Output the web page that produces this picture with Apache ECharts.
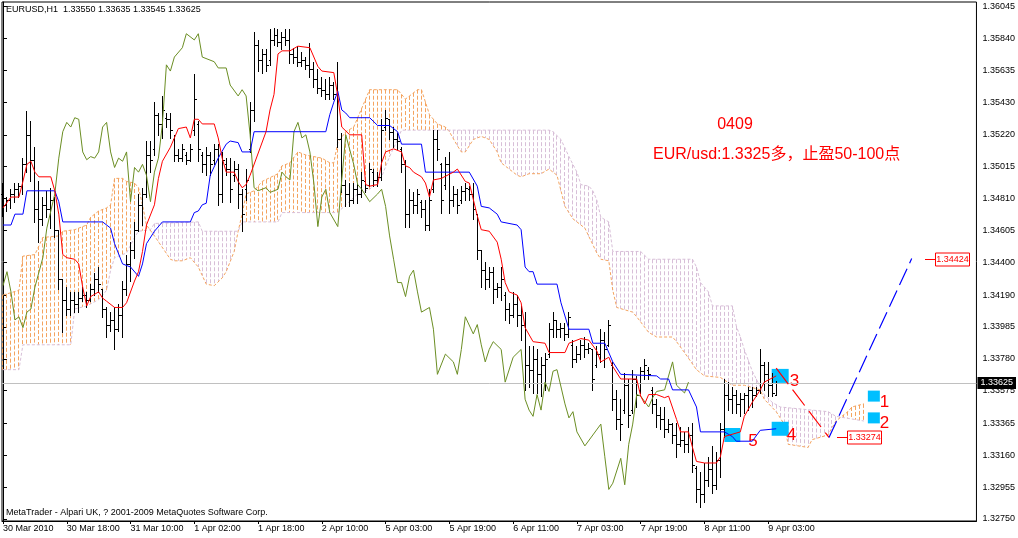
<!DOCTYPE html>
<html><head><meta charset="utf-8">
<script src="https://cdn.jsdelivr.net/npm/echarts@6/dist/echarts.min.js"></script>
<style>html,body{margin:0;padding:0;background:#fff}#c{width:1018px;height:538px}</style>
</head><body><div id="c"></div>
<script>
// ---------- DATA ----------
const symbolName = 'EURUSD,H1';
const xTickIdx = [0,16,32,48,64,80,96,112,128,144,160,176,192];
const xTickLabels = ['30 Mar 2010','30 Mar 18:00','31 Mar 10:00','1 Apr 02:00','1 Apr 18:00','2 Apr 10:00','5 Apr 03:00','5 Apr 19:00','6 Apr 11:00','7 Apr 03:00','7 Apr 19:00','8 Apr 11:00','9 Apr 03:00'];
const yTickValues = [1.36045,1.35840,1.35635,1.35430,1.35220,1.35015,1.34810,1.34605,1.34400,1.34190,1.33985,1.33780,1.33575,1.33365,1.33160,1.32955,1.32750];

const barOpen = [1.3484,1.3477,1.3480,1.3484,1.3487,1.3489,1.3503,1.3522,1.3506,1.3474,
1.3468,1.3477,1.3474,1.3480,1.3461,1.3429,1.3416,1.3410,1.3416,1.3413,
1.3417,1.3419,1.3416,1.3423,1.3429,1.3423,1.3410,1.3400,1.3403,1.3397,
1.3406,1.3423,1.3439,1.3448,1.3461,1.3477,1.3484,1.3509,1.3513,1.3535,
1.3529,1.3533,1.3532,1.3519,1.3509,1.3507,1.3509,1.3506,1.3525,1.3529,
1.3509,1.3503,1.3509,1.3506,1.3513,1.3484,1.3503,1.3500,1.3496,1.3500,
1.3484,1.3487,1.3513,1.3538,1.3580,1.3570,1.3574,1.3570,1.3583,1.3586,
1.3582,1.3585,1.3583,1.3574,1.3572,1.3569,1.3570,1.3567,1.3564,1.3558,
1.3552,1.3551,1.3548,1.3554,1.3548,1.3519,1.3490,1.3484,1.3480,1.3487,
1.3484,1.3492,1.3490,1.3498,1.3493,1.3495,1.3527,1.3532,1.3524,1.3519,
1.3513,1.3503,1.3471,1.3480,1.3477,1.3479,1.3474,1.3464,1.3487,1.3519,
1.3503,1.3490,1.3503,1.3480,1.3484,1.3480,1.3486,1.3487,1.3484,1.3471,
1.3448,1.3435,1.3429,1.3434,1.3423,1.3424,1.3419,1.3410,1.3406,1.3413,
1.3406,1.3400,1.3374,1.3371,1.3378,1.3368,1.3374,1.3381,1.3397,1.3403,
1.3397,1.3398,1.3394,1.3387,1.3378,1.3381,1.3387,1.3384,1.3384,1.3374,
1.3381,1.3390,1.3387,1.3374,1.3352,1.3339,1.3345,1.3361,1.3345,1.3365,
1.3358,1.3370,1.3371,1.3358,1.3349,1.3342,1.3339,1.3333,1.3336,1.3329,
1.3323,1.3326,1.3323,1.3329,1.3308,1.3294,1.3291,1.3300,1.3307,1.3297,
1.3313,1.3333,1.3355,1.3352,1.3355,1.3349,1.3352,1.3355,1.3358,1.3355,
1.3358,1.3374,1.3368,1.3361,1.33550];
const barHigh = [1.3491,1.3482,1.3487,1.3491,1.3491,1.3507,1.3537,1.3531,1.3514,1.3492,
1.3482,1.3486,1.3488,1.3482,1.3461,1.3429,1.3424,1.3421,1.3421,1.3421,
1.3424,1.3421,1.3426,1.3433,1.3437,1.3423,1.3411,1.3408,1.3411,1.3413,
1.3428,1.3445,1.3453,1.3466,1.3484,1.3488,1.3518,1.3518,1.3543,1.3536,
1.3547,1.3536,1.3536,1.3522,1.3513,1.3516,1.3511,1.3516,1.3561,1.3531,
1.3511,1.3514,1.3511,1.3516,1.3516,1.3511,1.3507,1.3507,1.3505,1.3503,
1.3487,1.3500,1.3543,1.3588,1.3583,1.3577,1.3577,1.3590,1.3591,1.3590,
1.3588,1.3590,1.3590,1.3578,1.3579,1.3575,1.3572,1.3581,1.3569,1.3564,
1.3559,1.3558,1.3559,1.3556,1.3569,1.3523,1.3493,1.3491,1.3491,1.3491,
1.3498,1.3493,1.3504,1.3500,1.3498,1.3532,1.3538,1.3532,1.3527,1.3523,
1.3514,1.3506,1.3487,1.3485,1.3487,1.3480,1.3480,1.3487,1.3525,1.3525,
1.3504,1.3508,1.3511,1.3489,1.3487,1.3489,1.3491,1.3489,1.3491,1.3471,
1.3448,1.3440,1.3437,1.3437,1.3427,1.3437,1.3421,1.3414,1.3421,1.3419,
1.3412,1.3408,1.3386,1.3386,1.3384,1.3379,1.3382,1.3401,1.3408,1.3403,
1.3401,1.3401,1.3408,1.3390,1.3386,1.3390,1.3392,1.3388,1.3384,1.3386,
1.3397,1.3395,1.3403,1.3376,1.3358,1.3352,1.3369,1.3365,1.3371,1.3367,
1.3373,1.3378,1.3373,1.3360,1.3352,1.3347,1.3347,1.3339,1.3337,1.3337,
1.3334,1.3331,1.3334,1.3337,1.3309,1.3305,1.3311,1.3315,1.3322,1.3318,
1.3337,1.3365,1.3363,1.3360,1.3358,1.3356,1.3356,1.3360,1.3360,1.3360,
1.3384,1.3376,1.3376,1.3369,1.33635];
const barLow = [1.3470,1.3473,1.3475,1.3479,1.3482,1.3484,1.3498,1.3492,1.3466,1.3453,
1.3464,1.3469,1.3462,1.3456,1.3423,1.3395,1.3406,1.3406,1.3408,1.3408,
1.3415,1.3411,1.3415,1.3419,1.3421,1.3405,1.3392,1.3396,1.3384,1.3396,
1.3392,1.3419,1.3428,1.3443,1.3460,1.3464,1.3482,1.3498,1.3509,1.3522,
1.3520,1.3527,1.3520,1.3505,1.3505,1.3505,1.3503,1.3505,1.3522,1.3505,
1.3498,1.3496,1.3496,1.3503,1.3477,1.3479,1.3496,1.3479,1.3492,1.3475,
1.3460,1.3480,1.3511,1.3531,1.3563,1.3562,1.3563,1.3567,1.3580,1.3579,
1.3577,1.3580,1.3568,1.3568,1.3566,1.3566,1.3564,1.3559,1.3553,1.3549,
1.3547,1.3545,1.3545,1.3545,1.3514,1.3485,1.3476,1.3476,1.3478,1.3478,
1.3482,1.3485,1.3489,1.3489,1.3489,1.3493,1.3525,1.3519,1.3514,1.3513,
1.3498,1.3463,1.3463,1.3472,1.3472,1.3469,1.3461,1.3461,1.3485,1.3506,
1.3472,1.3487,1.3472,1.3476,1.3472,1.3478,1.3480,1.3480,1.3468,1.3442,
1.3424,1.3423,1.3424,1.3414,1.3418,1.3416,1.3403,1.3401,1.3405,1.3399,
1.3390,1.3358,1.3360,1.3356,1.3356,1.3354,1.3358,1.3379,1.3392,1.3392,
1.3392,1.3390,1.3392,1.3373,1.3376,1.3378,1.3379,1.3382,1.3358,1.3373,
1.3376,1.3373,1.3386,1.3345,1.3333,1.3326,1.3343,1.3334,1.3343,1.3347,
1.3356,1.3365,1.3365,1.3343,1.3334,1.3333,1.3328,1.3331,1.3324,1.3315,
1.3322,1.3318,1.3318,1.3305,1.3286,1.3283,1.3286,1.3296,1.3292,1.3294,
1.3302,1.3328,1.3345,1.3343,1.3343,1.3341,1.3343,1.3345,1.3347,1.3354,
1.3356,1.3358,1.3354,1.3354,1.33545];
const barClose = [1.3477,1.3480,1.3484,1.3487,1.3489,1.3503,1.3522,1.3506,1.3474,1.3468,
1.3477,1.3474,1.3480,1.3461,1.3429,1.3416,1.3410,1.3416,1.3413,1.3417,
1.3419,1.3416,1.3423,1.3429,1.3426,1.3410,1.3400,1.3403,1.3397,1.3406,
1.3423,1.3439,1.3448,1.3461,1.3477,1.3484,1.3509,1.3506,1.3535,1.3529,
1.3538,1.3532,1.3525,1.3509,1.3507,1.3513,1.3506,1.3513,1.3545,1.3513,
1.3503,1.3509,1.3503,1.3513,1.3484,1.3506,1.3500,1.3487,1.3500,1.3484,
1.3471,1.3493,1.3538,1.3580,1.3570,1.3574,1.3567,1.3583,1.3586,1.3582,
1.3585,1.3583,1.3574,1.3572,1.3569,1.3570,1.3567,1.3564,1.3558,1.3552,
1.3551,1.3548,1.3554,1.3548,1.3519,1.3490,1.3484,1.3480,1.3487,1.3484,
1.3493,1.3488,1.3500,1.3493,1.3495,1.3525,1.3533,1.3524,1.3519,1.3518,
1.3503,1.3471,1.3480,1.3477,1.3484,1.3474,1.3464,1.3480,1.3519,1.3513,
1.3480,1.3503,1.3480,1.3484,1.3477,1.3486,1.3488,1.3484,1.3474,1.3448,
1.3435,1.3429,1.3434,1.3423,1.3424,1.3429,1.3410,1.3406,1.3413,1.3406,
1.3400,1.3374,1.3371,1.3378,1.3368,1.3374,1.3378,1.3397,1.3403,1.3397,
1.3398,1.3394,1.3405,1.3378,1.3381,1.3387,1.3384,1.3385,1.3365,1.3381,
1.3390,1.3384,1.3400,1.3352,1.3339,1.3336,1.3361,1.3342,1.3365,1.3355,
1.3370,1.3374,1.3368,1.3349,1.3342,1.3339,1.3333,1.3336,1.3329,1.3323,
1.3326,1.3323,1.3329,1.3310,1.3294,1.3291,1.3300,1.3307,1.3297,1.3313,
1.3333,1.3355,1.3352,1.3355,1.3349,1.3352,1.3355,1.3358,1.3355,1.3358,
1.3374,1.3368,1.3361,1.3356,1.33625];

// Ichimoku lines: [bar index, price] vertices
const tenkan = [[0,1.3475],[2,1.3482],[4,1.3482],[5,1.3492],[6,1.3503],[7,1.3505],[8,1.3498],[9,1.3495],[12,1.3495],[13,1.3486],[14,1.3471],[15,1.3445],[16,1.3443],[18,1.3442],[19,1.3439],[20,1.3424],[21,1.3412],[22,1.3418],[24,1.3421],[25,1.3417],[26,1.3415],[28,1.3411],[30,1.3411],[31,1.3414],[33,1.3428],[34,1.3434],[35,1.3447],[36,1.3464],[38,1.3477],[39,1.3494],[40,1.3505],[42,1.3514],[43,1.3520],[44,1.3526],[46,1.3527],[47,1.3520],[48,1.3532],[49,1.3532],[50,1.3529],[53,1.3529],[54,1.3520],[55,1.3507],[56,1.3498],[58,1.3498],[59,1.3492],[60,1.3488],[61,1.3490],[62,1.3496],[66,1.3524],[67,1.3538],[68,1.3548],[69,1.3574],[70,1.3576],[72,1.3576],[74,1.3579],[77,1.3578],[79,1.3566],[80,1.3563],[83,1.3562],[84,1.3547],[85,1.3527],[87,1.3522],[90,1.3522],[91,1.3490],[92,1.3489],[94,1.3490],[95,1.3504],[96,1.3511],[98,1.3513],[100,1.3511],[101,1.3502],[102,1.3501],[103,1.3498],[105,1.3495],[106,1.3491],[107,1.3482],[108,1.3493],[110,1.3494],[113,1.3498],[114,1.3500],[116,1.3492],[117,1.3491],[119,1.3470],[120,1.3461],[122,1.3460],[124,1.3453],[125,1.3442],[126,1.3427],[127,1.3421],[129,1.3419],[130,1.3414],[131,1.3398],[133,1.3389],[136,1.3388],[137,1.3382],[141,1.3382],[142,1.3388],[145,1.3391],[147,1.3390],[149,1.3383],[150,1.3376],[152,1.3379],[153,1.3373],[155,1.3365],[159,1.3365],[160,1.3354],[161,1.3349],[162,1.3355],[164,1.3355],[166,1.3353],[167,1.3354],[169,1.3339],[170,1.3331],[172,1.3331],[173,1.3321],[174,1.3312],[176,1.3311],[179,1.3311],[180,1.3315],[181,1.3328],[185,1.3331],[186,1.3341],[188,1.3350],[190,1.3358],[191,1.3363],[194,1.3367]];
const kijun = [[0,1.3464],[2,1.3464],[3,1.3471],[5,1.3471],[6,1.3486],[13,1.3486],[14,1.3479],[15,1.3466],[25,1.3466],[27,1.3462],[28,1.3452],[30,1.3439],[32,1.3437],[34,1.3431],[35,1.3439],[36,1.3452],[38,1.3460],[40,1.3466],[47,1.3466],[48,1.3472],[49,1.3473],[50,1.3477],[51,1.3478],[52,1.3496],[54,1.3507],[56,1.3516],[57,1.3518],[59,1.3517],[60,1.3511],[62,1.3511],[63,1.3524],[81,1.3524],[82,1.3535],[83,1.3543],[84,1.3550],[85,1.3538],[86,1.3536],[87,1.3533],[92,1.3533],[94,1.3528],[97,1.3528],[99,1.3524],[100,1.3516],[105,1.3516],[106,1.3498],[117,1.3498],[119,1.3489],[120,1.3476],[122,1.3475],[124,1.3471],[125,1.3466],[129,1.3464],[130,1.3461],[131,1.3437],[132,1.3434],[133,1.3434],[134,1.3426],[139,1.3426],[140,1.3414],[142,1.3397],[147,1.3397],[148,1.3388],[151,1.3388],[153,1.3376],[155,1.3368],[164,1.3367],[165,1.3365],[167,1.3365],[168,1.3358],[172,1.3358],[174,1.3347],[175,1.3331],[181,1.3331],[183,1.3328],[184,1.3325],[188,1.3325],[190,1.3332],[194,1.3333]];
const chikou = [[0,1.3425],[1,1.3434],[2,1.3421],[3,1.3403],[4,1.3405],[5,1.3398],[6,1.3408],[7,1.3410],[8,1.3424],[10,1.3443],[11,1.3462],[13,1.3484],[14,1.3507],[15,1.3524],[16,1.3530],[17,1.3527],[18,1.3533],[19,1.3532],[20,1.3511],[21,1.3506],[22,1.3508],[23,1.3507],[24,1.3511],[25,1.3527],[26,1.3530],[27,1.3511],[28,1.3501],[29,1.3507],[30,1.3505],[31,1.3511],[32,1.3479],[33,1.3501],[34,1.3498],[35,1.3503],[36,1.3496],[37,1.3479],[38,1.3498],[39,1.3507],[40,1.3529],[41,1.3567],[42,1.3563],[43,1.3572],[45,1.3578],[46,1.3587],[48,1.3583],[49,1.3587],[50,1.3572],[53,1.3569],[54,1.3565],[56,1.3565],[57,1.3554],[59,1.3547],[60,1.3551],[61,1.3547],[62,1.3522],[63,1.3488],[64,1.3486],[66,1.3488],[67,1.3485],[69,1.3487],[70,1.3498],[71,1.3495],[72,1.3493],[73,1.3524],[74,1.3530],[75,1.3520],[76,1.3522],[77,1.3511],[78,1.3491],[79,1.3463],[80,1.3482],[81,1.3487],[82,1.3472],[84,1.3463],[85,1.3493],[86,1.3522],[88,1.3503],[89,1.3490],[90,1.3487],[92,1.3479],[94,1.3484],[95,1.3487],[96,1.3476],[97,1.3457],[98,1.3442],[99,1.3427],[100,1.3427],[101,1.3418],[102,1.3431],[103,1.3435],[104,1.3421],[105,1.3408],[107,1.3411],[108,1.3397],[109,1.3368],[111,1.3381],[113,1.3376],[114,1.3368],[115,1.3384],[116,1.3405],[118,1.3394],[119,1.3400],[120,1.3387],[121,1.3376],[122,1.3384],[123,1.3389],[125,1.3384],[126,1.3363],[128,1.3379],[130,1.3384],[131,1.3352],[132,1.3345],[133,1.3341],[134,1.3355],[135,1.3345],[136,1.3363],[137,1.3357],[138,1.3370],[139,1.3371],[141,1.3349],[142,1.3340],[143,1.3344],[144,1.3331],[146,1.3322],[148,1.3329],[150,1.3336],[151,1.3315],[152,1.3294],[153,1.3298],[155,1.3314],[156,1.3297],[157,1.3323],[158,1.3336],[159,1.3355],[160,1.3354],[162,1.3347],[163,1.3353],[164,1.3357],[166,1.3358],[168,1.3376],[169,1.3361],[171,1.3356],[172,1.3363]];
const senkouA = [[0,1.3419],[4,1.3422],[5,1.3444],[8,1.3445],[10,1.3456],[14,1.3457],[15,1.3460],[18,1.3461],[21,1.3464],[22,1.3469],[24,1.3473],[26,1.3475],[27,1.3477],[28,1.3494],[30,1.3494],[31,1.3492],[33,1.3491],[34,1.3488],[35,1.3477],[36,1.3464],[38,1.3457],[42,1.3442],[43,1.3441],[45,1.3441],[47,1.3443],[49,1.3437],[51,1.3426],[53,1.3425],[55,1.3430],[56,1.3434],[58,1.3447],[59,1.3460],[60,1.3471],[61,1.3484],[63,1.3486],[65,1.3492],[69,1.3497],[70,1.3502],[72,1.3504],[74,1.3511],[76,1.3509],[80,1.3507],[82,1.3504],[83,1.3504],[84,1.3517],[86,1.3524],[88,1.3527],[89,1.3533],[91,1.3545],[92,1.3551],[99,1.3551],[101,1.3545],[102,1.3547],[104,1.3551],[105,1.3551],[107,1.3535],[109,1.3529],[111,1.3527],[112,1.3524],[114,1.3515],[115,1.3511],[116,1.3511],[118,1.3519],[120,1.3521],[122,1.3519],[124,1.3511],[125,1.3504],[127,1.3500],[129,1.3496],[130,1.3495],[132,1.3497],[135,1.3497],[137,1.3500],[139,1.3496],[141,1.3476],[143,1.3468],[146,1.3462],[149,1.3446],[150,1.3442],[152,1.3441],[153,1.3422],[154,1.3411],[158,1.3408],[159,1.3405],[162,1.3395],[164,1.3392],[168,1.3392],[169,1.3389],[171,1.3382],[174,1.3371],[176,1.3367],[180,1.3366],[183,1.3361],[186,1.3361],[190,1.3358],[191,1.3352],[194,1.3344],[196,1.3336],[197,1.3323],[202,1.3321],[203,1.3326],[207,1.3329],[209,1.3338],[212,1.3344],[213,1.3347],[216,1.3349]];
const senkouB = [[0,1.3371],[4,1.3371],[5,1.3387],[17,1.3387],[18,1.3410],[21,1.3412],[24,1.3416],[26,1.3422],[27,1.3435],[28,1.3443],[31,1.3446],[33,1.3456],[34,1.3460],[37,1.3461],[38,1.3465],[49,1.3466],[50,1.3460],[59,1.3460],[60,1.3466],[69,1.3466],[70,1.3472],[84,1.3472],[86,1.3477],[89,1.3484],[92,1.3487],[95,1.3495],[97,1.3508],[99,1.3519],[100,1.3525],[137,1.3525],[138,1.3524],[140,1.3519],[142,1.3508],[144,1.3498],[145,1.3490],[147,1.3489],[148,1.3486],[149,1.3480],[150,1.3469],[152,1.3466],[153,1.3447],[160,1.3447],[162,1.3442],[173,1.3442],[174,1.3437],[175,1.3427],[177,1.3421],[178,1.3412],[183,1.3412],[184,1.3399],[185,1.3392],[186,1.3384],[188,1.3370],[189,1.3365],[191,1.3355],[193,1.3350],[195,1.3347],[203,1.3345],[207,1.3344],[209,1.3341],[216,1.3338]];

// hand-drawn forecast and annotations
const forecastDown = [[194,1.3372],[207.25,1.33274]];
const forecastUp = [[207.25,1.33274],[228,1.34424]];
const tagIdx = [231.25, 209.25];
const tagPrice = [1.34424, 1.33274];
const markerLabels = ['3','4','5','1','2'];
const markerIdx = [195,195,183,218.5,218.5];
const markerPrice = [1.3367,1.3333,1.3329,1.3354,1.3340];
const noteTitle = '0409';
const noteText = 'EUR/usd:1.3325多，止盈50-100点';
const copyright = 'MetaTrader - Alpari UK, ? 2001-2009 MetaQuotes Software Corp.';

// ---------- CHART ----------
const FONT = '"Liberation Sans", Arial, "Noto Sans CJK SC", sans-serif';
const SMALL_SIZE = 9;
const UP_CLOUD = '#F4A460';   // sandy brown hatch (A above B)
const DOWN_CLOUD = '#D8BFD8'; // thistle hatch (B above A)
const last = barClose.length - 1;
const lastPrice = barClose[last];
const header = symbolName + '  ' + [barOpen[last], barHigh[last], barLow[last], barClose[last]].map(v => v.toFixed(5)).join(' ');

const bars = barOpen.map((o, i) => [i, o, barHigh[i], barLow[i], barClose[i]]);

function lineAt(pts, k) {
  if (k < pts[0][0] || k > pts[pts.length - 1][0]) return null;
  for (let j = 1; j < pts.length; j++) {
    if (k <= pts[j][0]) {
      const a = pts[j - 1], b = pts[j];
      return b[0] === a[0] ? b[1] : a[1] + (b[1] - a[1]) * (k - a[0]) / (b[0] - a[0]);
    }
  }
  return null;
}
const cloudEnd = Math.min(senkouA[senkouA.length - 1][0], senkouB[senkouB.length - 1][0]);
const cloudCols = [];
for (let k = 0; k <= cloudEnd; k++) cloudCols.push([k]);

const markerSize = [[17,14],[17,14],[16,14],[12,11],[12,11]];
const markerOffset = [[-1,5],[-4,7],[6,6],[-2,6],[-2,5]];

const chart = echarts.init(document.getElementById('c'));
chart.setOption({
  animation: false,
  backgroundColor: '#fff',
  grid: { left: 2, right: 38, top: 2, bottom: 17, show: true, borderColor: '#000', borderWidth: 1, backgroundColor: '#fff' },
  xAxis: {
    type: 'value', min: -0.25, max: 244.25,
    axisLine: { show: true, lineStyle: { color: '#000', width: 1 } },
    axisTick: { show: true, customValues: xTickIdx, length: 3, lineStyle: { color: '#000' } },
    axisLabel: { customValues: xTickIdx, formatter: v => { const j = xTickIdx.indexOf(v); return j >= 0 ? xTickLabels[j] : ''; },
      align: 'left', margin: 3, fontSize: SMALL_SIZE, fontFamily: FONT, color: '#000' },
    splitLine: { show: false }
  },
  yAxis: {
    type: 'value', position: 'right', min: 1.32737, max: 1.36074,
    axisLine: { show: true, lineStyle: { color: '#000', width: 1 } },
    axisTick: { show: true, customValues: yTickValues, length: 4, lineStyle: { color: '#000' } },
    axisLabel: { customValues: yTickValues, formatter: v => v.toFixed(5), margin: 6, fontSize: SMALL_SIZE, fontFamily: FONT, color: '#000' },
    splitLine: { show: false }
  },
  series: [
    { // cloud hatching: one dashed vertical stroke per bar between Senkou A and Senkou B
      type: 'custom', z: 1, silent: true, data: cloudCols, encode: { x: 0 },
      renderItem: (params, api) => {
        const k = api.value(0);
        const a = lineAt(senkouA, k), b = lineAt(senkouB, k);
        if (a == null || b == null) return null;
        const pa = api.coord([k, a]), pb = api.coord([k, b]);
        const x = Math.floor(pa[0]) + 0.5;
        const col = a >= b ? UP_CLOUD : DOWN_CLOUD;
        return { type: 'line', silent: true,
          shape: { x1: x, y1: Math.min(pa[1], pb[1]), x2: x, y2: Math.max(pa[1], pb[1]) },
          style: { stroke: col, fill: null, lineWidth: 1, lineDash: [4, 2], opacity: 1 } };
      }
    },
    { type: 'line', name: 'Senkou A', data: senkouA, z: 2, showSymbol: false, silent: true,
      lineStyle: { color: UP_CLOUD, width: 1, type: [3, 2] },
      markLine: { silent: true, symbol: ['none', 'none'], animation: false, precision: 5,
        lineStyle: { color: '#c0c0c0', type: 'solid', width: 1 },
        label: { show: true, position: 'end', formatter: () => lastPrice.toFixed(5), color: '#fff', backgroundColor: '#000',
          padding: [2, 3, 1, 3], fontSize: SMALL_SIZE, fontFamily: FONT, distance: 1 },
        data: [{ yAxis: lastPrice }] } },
    { type: 'line', name: 'Senkou B', data: senkouB, z: 2, showSymbol: false, silent: true,
      lineStyle: { color: DOWN_CLOUD, width: 1, type: [3, 2] } },
    { // markers (below lines)
      type: 'scatter', z: 3, silent: true,
      data: markerLabels.map((n, j) => ({ name: n, value: [markerIdx[j], markerPrice[j]], symbolSize: markerSize[j],
        label: { offset: markerOffset[j] } })),
      symbol: 'rect', itemStyle: { color: '#00BFFF', opacity: 1 },
      label: { show: true, position: 'right', distance: 2, formatter: p => p.name, color: '#ff0000', fontSize: 17, fontFamily: FONT }
    },
    { // OHLC bars
      type: 'custom', z: 4, silent: true, data: bars, encode: { x: 0, y: [1, 2, 3, 4] },
      renderItem: (params, api) => {
        const i = api.value(0);
        const ph = api.coord([i, api.value(2)]), pl = api.coord([i, api.value(3)]);
        const po = api.coord([i, api.value(1)]), pc = api.coord([i, api.value(4)]);
        const xi = Math.floor(ph[0]);
        const x = xi + 0.5;
        const yo = Math.round(po[1]) + 0.5, yc = Math.round(pc[1]) + 0.5;
        const st = { stroke: '#000', lineWidth: 1 };
        return { type: 'group', children: [
          { type: 'line', shape: { x1: x, y1: Math.round(ph[1]), x2: x, y2: Math.round(pl[1]) + 1 }, style: st },
          { type: 'line', shape: { x1: xi - 1, y1: yo, x2: xi, y2: yo }, style: st },
          { type: 'line', shape: { x1: xi + 1, y1: yc, x2: xi + 3, y2: yc }, style: st }
        ] };
      }
    },
    { type: 'line', name: 'Chikou', data: chikou, z: 5, showSymbol: false, silent: true, lineStyle: { color: '#6B8E23', width: 1 } },
    { type: 'line', name: 'Kijun', data: kijun, z: 5, showSymbol: false, silent: true, lineStyle: { color: '#0000FF', width: 1 } },
    { type: 'line', name: 'Tenkan', data: tenkan, z: 6, showSymbol: false, silent: true, lineStyle: { color: '#FF0000', width: 1 } },
    { type: 'line', data: forecastDown, z: 6, showSymbol: false, silent: true, lineStyle: { color: '#FF0000', width: 1.2, type: [20, 7] } },
    { type: 'line', data: forecastUp, z: 6, showSymbol: false, silent: true, lineStyle: { color: '#0000FF', width: 1.2, type: [18, 6] } },
    { // price tags
      type: 'custom', z: 7, silent: true, data: tagIdx.map((t, j) => [t, tagPrice[j]]), encode: { x: 0, y: 1 },
      renderItem: (params, api) => {
        const p = api.coord([api.value(0), api.value(1)]);
        const x = Math.round(p[0]), y = Math.round(p[1]) + 0.5;
        return { type: 'group', children: [
          { type: 'line', shape: { x1: x, y1: y, x2: x + 10, y2: y }, style: { stroke: '#ff0000', lineWidth: 1 } },
          { type: 'rect', shape: { x: x + 10.5, y: y - 6.5, width: 34, height: 13 }, style: { fill: '#fff', stroke: '#ff0000', lineWidth: 1 } },
          { type: 'text', style: { x: x + 27.5, y: y, text: api.value(1).toFixed(5), fill: '#ff0000', font: SMALL_SIZE + 'px ' + FONT,
            align: 'center', verticalAlign: 'middle', textAlign: 'center', textVerticalAlign: 'middle' } }
        ] };
      }
    }
  ],
  graphic: [
    { type: 'text', left: 6, top: 5, z: 100, silent: true, style: { text: header, font: SMALL_SIZE + 'px ' + FONT, fill: '#000' } },
    { type: 'text', left: 6, top: 508, z: 100, silent: true, style: { text: copyright, font: SMALL_SIZE + 'px ' + FONT, fill: '#000' } },
    { type: 'text', x: 735, y: 125, z: 100, silent: true, style: { text: noteTitle, font: '16px ' + FONT, fill: '#ff0000',
      align: 'center', verticalAlign: 'middle', textAlign: 'center', textVerticalAlign: 'middle' } },
    { type: 'text', x: 653, y: 155, z: 100, silent: true, style: { text: noteText, font: '16px ' + FONT, fill: '#ff0000',
      align: 'left', verticalAlign: 'middle', textAlign: 'left', textVerticalAlign: 'middle' } }
  ]
});
</script>
</body></html>
